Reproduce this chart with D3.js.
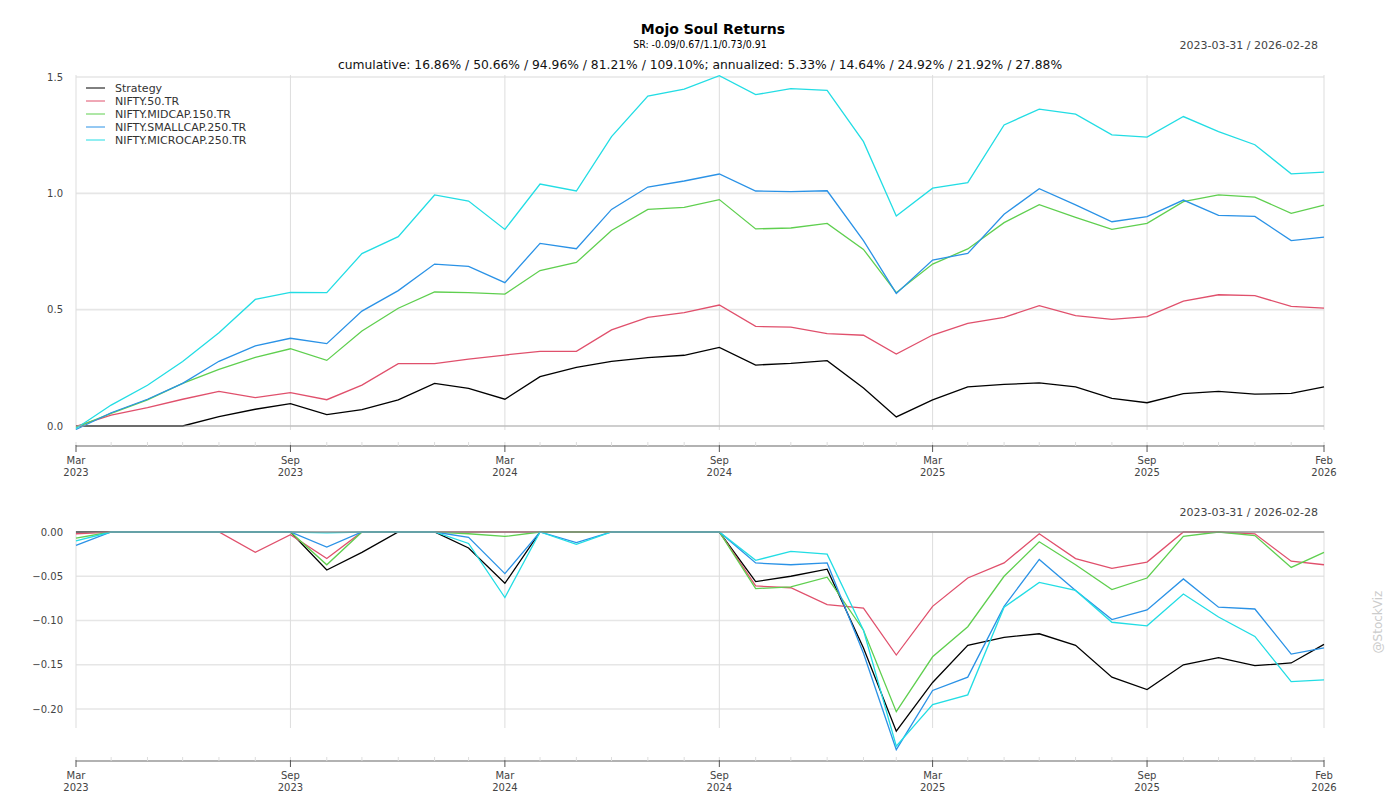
<!DOCTYPE html>
<html><head><meta charset="utf-8">
<script src="https://cdn.jsdelivr.net/npm/d3@7/dist/d3.min.js"></script>
<style>
html,body{margin:0;padding:0;background:#fff;}
svg{display:block;font-family:"DejaVu Sans",sans-serif;}
</style></head>
<body><svg id="chart" width="1400" height="800"></svg>
<script>
const dates = ["2023-03-31","2023-04-30","2023-05-31","2023-06-30","2023-07-31","2023-08-31","2023-09-30","2023-10-31","2023-11-30","2023-12-31",
"2024-01-31","2024-02-29","2024-03-31","2024-04-30","2024-05-31","2024-06-30","2024-07-31","2024-08-31","2024-09-30","2024-10-31",
"2024-11-30","2024-12-31","2025-01-31","2025-02-28","2025-03-31","2025-04-30","2025-05-31","2025-06-30","2025-07-31","2025-08-31",
"2025-09-30","2025-10-31","2025-11-30","2025-12-31","2026-01-31","2026-02-28"];
const seriesNames = ["Strategy","NIFTY.50.TR","NIFTY.MIDCAP.150.TR","NIFTY.SMALLCAP.250.TR","NIFTY.MICROCAP.250.TR"];
const seriesColors = ["#000000","#e0506c","#5fcf4f","#2a92e6","#22dde4"];

// cumulative returns
const cumStrategy = [0,0,0,0,0.040,0.072,0.096,0.049,0.070,0.112,0.183,0.162,0.115,0.212,0.252,0.278,0.294,0.304,0.338,0.262,0.269,0.281,0.163,0.039,0.112,0.168,0.179,0.185,0.168,0.119,0.100,0.139,0.149,0.137,0.140,0.1686];
const cumNifty50 = [-0.002,0.047,0.079,0.115,0.149,0.122,0.143,0.113,0.176,0.268,0.268,0.287,0.305,0.321,0.321,0.413,0.467,0.487,0.520,0.428,0.425,0.397,0.390,0.309,0.391,0.441,0.467,0.517,0.474,0.458,0.470,0.537,0.564,0.560,0.514,0.5066];
const cumMidcap = [-0.006,0.054,0.112,0.183,0.243,0.295,0.332,0.282,0.408,0.506,0.576,0.573,0.567,0.668,0.703,0.840,0.931,0.940,0.973,0.847,0.851,0.871,0.759,0.573,0.696,0.761,0.874,0.951,0.897,0.845,0.871,0.964,0.993,0.984,0.914,0.9496];
const cumSmallcap = [-0.015,0.057,0.115,0.183,0.278,0.344,0.377,0.354,0.494,0.582,0.696,0.686,0.616,0.785,0.762,0.931,1.027,1.053,1.083,1.010,1.007,1.011,0.797,0.570,0.713,0.742,0.910,1.020,0.950,0.878,0.900,0.971,0.905,0.901,0.797,0.8121];
const cumMicrocap = [-0.011,0.090,0.175,0.277,0.401,0.544,0.574,0.573,0.741,0.814,0.993,0.967,0.845,1.040,1.010,1.244,1.418,1.448,1.506,1.424,1.450,1.443,1.222,0.903,1.022,1.046,1.294,1.362,1.340,1.251,1.242,1.330,1.265,1.209,1.084,1.091];

// drawdowns
const ddStrategy = [0,0,0,0,0,0,0,-0.043,-0.023,0,0,-0.018,-0.058,0,0,0,0,0,0,-0.056,-0.050,-0.042,-0.131,-0.225,-0.170,-0.128,-0.119,-0.115,-0.128,-0.164,-0.178,-0.150,-0.142,-0.151,-0.148,-0.127];
const ddNifty50 = [-0.002,0,0,0,0,-0.023,-0.003,-0.030,0,0,0,0,0,0,0,0,0,0,0,-0.061,-0.063,-0.082,-0.086,-0.139,-0.084,-0.052,-0.035,-0.002,-0.030,-0.041,-0.034,0,0,-0.002,-0.033,-0.037];
const ddMidcap = [-0.007,0,0,0,0,0,0,-0.037,0,0,0,-0.002,-0.005,0,0,0,0,0,0,-0.064,-0.062,-0.051,-0.111,-0.203,-0.141,-0.107,-0.050,-0.011,-0.037,-0.065,-0.052,-0.005,0,-0.004,-0.040,-0.023];
const ddSmallcap = [-0.015,0,0,0,0,0,0,-0.017,0,0,0,-0.006,-0.047,0,-0.012,0,0,0,0,-0.035,-0.037,-0.035,-0.137,-0.246,-0.179,-0.164,-0.084,-0.031,-0.066,-0.099,-0.088,-0.053,-0.085,-0.087,-0.138,-0.131];
const ddMicrocap = [-0.010,0,0,0,0,0,0,-0.001,0,0,0,-0.013,-0.074,0,-0.014,0,0,0,0,-0.032,-0.022,-0.025,-0.111,-0.242,-0.195,-0.184,-0.085,-0.057,-0.066,-0.102,-0.106,-0.070,-0.096,-0.118,-0.169,-0.167];

const majorTickDates = ["2023-03-31","2023-09-30","2024-03-31","2024-09-30","2025-03-31","2025-09-30","2026-02-28"];
const majorTickLabels = [["Mar","2023"],["Sep","2023"],["Mar","2024"],["Sep","2024"],["Mar","2025"],["Sep","2025"],["Feb","2026"]];
const topYTicks = [0.0,0.5,1.0,1.5];
const botYTicks = [0.00,-0.05,-0.10,-0.15,-0.20];

const titleText = "Mojo Soul Returns";
const srText = "SR: -0.09/0.67/1.1/0.73/0.91";
const statsText = "cumulative: 16.86% / 50.66% / 94.96% / 81.21% / 109.10%; annualized: 5.33% / 14.64% / 24.92% / 21.92% / 27.88%";
const rangeText = "2023-03-31 / 2026-02-28";
const watermark = "@StockViz";

const parse = d3.utcParse("%Y-%m-%d");
const dts = dates.map(parse);
const cumSeries = [cumStrategy,cumNifty50,cumMidcap,cumSmallcap,cumMicrocap];
const ddSeries = [ddStrategy,ddNifty50,ddMidcap,ddSmallcap,ddMicrocap];

const svg = d3.select("#chart");
const x = d3.scaleUtc().domain([dts[0], dts[dts.length-1]]).range([76,1324]);

function panel(opts){
  const g = svg.append("g");
  const y = d3.scaleLinear().domain(opts.ydom).range(opts.yrange);
  // horizontal grid
  g.append("g").selectAll("line").data(opts.yticks).join("line")
    .attr("x1",76).attr("x2",1324).attr("y1",d=>y(d)).attr("y2",d=>y(d))
    .attr("stroke","#e6e6e6").attr("stroke-width",1.6);
  // vertical grid
  g.append("g").selectAll("line").data(majorTickDates.map(parse)).join("line")
    .attr("x1",d=>x(d)).attr("x2",d=>x(d)).attr("y1",opts.gridTop).attr("y2",opts.gridBottom)
    .attr("stroke","#dddddd").attr("stroke-width",1);
  // y labels
  g.append("g").selectAll("text").data(opts.yticks).join("text")
    .attr("x",63).attr("y",d=>y(d)).attr("dy","0.35em").attr("text-anchor","end")
    .attr("font-size",10).attr("fill","#444").text(d=>opts.fmt(d));
  // lines
  const line = d3.line().x((d,i)=>x(dts[i])).y(d=>y(d));
  opts.series.forEach((s,k)=>{
    g.append("path").datum(s).attr("d",line).attr("fill","none")
      .attr("stroke",seriesColors[k]).attr("stroke-width",1.3).attr("stroke-linejoin","miter");
  });
  // zero line drawn over the series
  g.append("line").attr("x1",76).attr("x2",1324).attr("y1",y(0)).attr("y2",y(0))
   .attr("stroke",opts.zeroColor).attr("stroke-opacity",opts.zeroOpacity).attr("stroke-width",1.6);
  // x axis
  const ax = g.append("g");
  ax.append("line").attr("x1",76).attr("x2",1324).attr("y1",opts.axisY).attr("y2",opts.axisY)
    .attr("stroke","#999").attr("stroke-width",1.5);
  ax.selectAll("line.minor").data(dts).join("line").attr("class","minor")
    .attr("x1",d=>x(d)).attr("x2",d=>x(d)).attr("y1",opts.axisY-4).attr("y2",opts.axisY)
    .attr("stroke","#dddddd").attr("stroke-width",1);
  const mt = majorTickDates.map(parse);
  ax.selectAll("line.major").data(mt).join("line").attr("class","major")
    .attr("x1",d=>x(d)).attr("x2",d=>x(d)).attr("y1",opts.axisY-1).attr("y2",opts.axisY+6)
    .attr("stroke","#555").attr("stroke-width",1);
  const tl = ax.selectAll("text.tl").data(mt).join("text").attr("class","tl")
    .attr("x",d=>x(d)).attr("text-anchor","middle").attr("font-size",10).attr("fill","#444");
  tl.append("tspan").attr("x",d=>x(d)).attr("y",opts.axisY+18).text((d,i)=>majorTickLabels[i][0]);
  tl.append("tspan").attr("x",d=>x(d)).attr("y",opts.axisY+30).text((d,i)=>majorTickLabels[i][1]);
  // date range text
  svg.append("text").attr("x",1318).attr("y",opts.rangeY).attr("text-anchor","end")
    .attr("font-size",11).attr("fill","#444").text(rangeText);
  return y;
}

panel({ydom:[0,1.5], yrange:[426,77], yticks:topYTicks, gridTop:75, gridBottom:430, axisY:446,
  fmt:d3.format(".1f"), series:cumSeries, rangeY:49, zeroColor:"#aaaaaa", zeroOpacity:0.6});
panel({ydom:[-0.2,0], yrange:[709,532], yticks:botYTicks, gridTop:531, gridBottom:728, axisY:761,
  fmt:d3.format(".2f"), series:ddSeries, rangeY:516, zeroColor:"#888888", zeroOpacity:0.85});

// titles
svg.append("text").attr("x",713).attr("y",34).attr("text-anchor","middle")
  .attr("font-size",14).attr("font-weight","bold").attr("fill","#000").text(titleText);
svg.append("text").attr("x",700).attr("y",48).attr("text-anchor","middle")
  .attr("font-family","'DejaVu Sans Condensed','Liberation Sans Narrow',sans-serif")
  .attr("font-size",10.5).attr("fill","#000").text(srText);
svg.append("text").attr("x",700).attr("y",69).attr("text-anchor","middle")
  .attr("font-size",12.3).attr("fill","#111").text(statsText);

// legend
const lg = svg.append("g");
seriesNames.forEach((n,k)=>{
  const yy = 88 + k*13;
  lg.append("line").attr("x1",86).attr("x2",105).attr("y1",yy).attr("y2",yy)
    .attr("stroke",seriesColors[k]).attr("stroke-width",1);
  lg.append("text").attr("x",115).attr("y",yy).attr("dy","0.35em").attr("font-size",11)
    .attr("fill","#333").text(n);
});

// watermark
svg.append("text").attr("transform","translate(1382,622) rotate(-90)").attr("text-anchor","middle")
  .attr("font-size",12).attr("fill","#cccccc").text(watermark);
</script></body></html>
